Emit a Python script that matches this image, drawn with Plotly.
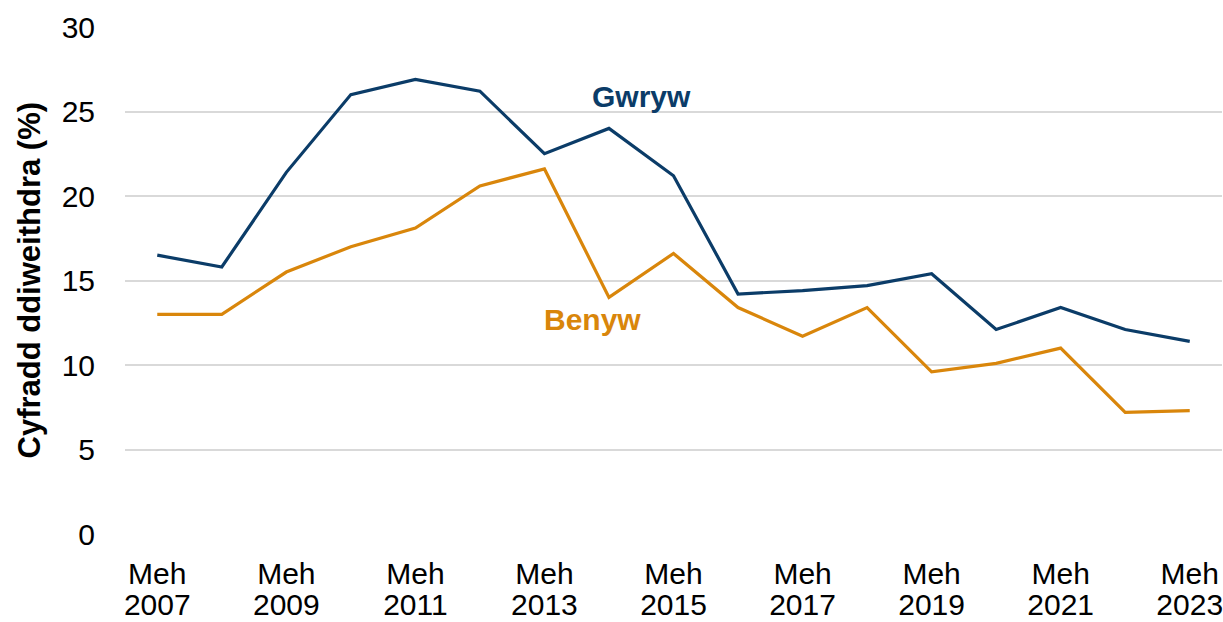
import plotly.graph_objects as go

# Mehefin (June) each year
years = list(range(2007, 2024))
gwryw = [16.5, 15.8, 21.4, 26.0, 26.9, 26.2, 22.5, 24.0, 21.2, 14.2, 14.4, 14.7, 15.4,
         12.1, 13.4, 12.1, 11.4]
benyw = [13.0, 13.0, 15.5, 17.0, 18.1, 20.6, 21.6, 14.0, 16.6, 13.4, 11.7, 13.4, 9.6,
         10.1, 11.0, 7.2, 7.3]
tick_years = years[::2]
month_text = ["Meh"] * len(tick_years)
year_text = [str(y) for y in tick_years]

BLUE = "#0B3C68"
ORANGE = "#D9860B"
FONT = "Liberation Sans, Arial, sans-serif"

fig = go.Figure()
fig.add_trace(go.Scatter(x=years, y=gwryw, mode="lines", name="Gwryw",
                         line=dict(color=BLUE, width=3.2)))
# second x axis carries the year line of the tick labels (tighter line spacing)
fig.add_trace(go.Scatter(x=years, y=benyw, mode="lines", name="Benyw", xaxis="x2",
                         line=dict(color=ORANGE, width=3.2)))

fig.add_annotation(x=2014.5, y=25.9, text="<b>Gwryw</b>", showarrow=False,
                   font=dict(size=30, color=BLUE, family=FONT))
fig.add_annotation(x=2013.75, y=12.7, text="<b>Benyw</b>", showarrow=False,
                   font=dict(size=30, color=ORANGE, family=FONT))

fig.add_annotation(xref="paper", yref="paper", x=-96 / 1097, y=0.5,
                   text="<b>Cyfradd ddiweithdra (%)</b>", textangle=-90,
                   showarrow=False, xanchor="center", yanchor="middle",
                   font=dict(size=31, color="black", family=FONT))

xcommon = dict(range=[2006.5, 2023.5], tickvals=tick_years, showgrid=False,
               zeroline=False, showline=False, ticks="", automargin=False,
               ticklabeloverflow="allow", tickfont=dict(size=30))

fig.update_layout(
    width=1223, height=622,
    margin=dict(l=125, r=1, t=27, b=88, autoexpand=False),
    plot_bgcolor="white", paper_bgcolor="white",
    showlegend=False,
    font=dict(family=FONT, size=30, color="black"),
    xaxis=dict(ticktext=month_text, ticklabelstandoff=19, **xcommon),
    xaxis2=dict(ticktext=year_text, ticklabelstandoff=50, overlaying="x",
                matches="x", side="bottom", anchor="y", **xcommon),
    yaxis=dict(range=[0, 30], dtick=5, showgrid=True, gridcolor="#D9D9D9", gridwidth=2,
               zeroline=False, showline=False, ticks="", automargin=False,
               ticklabelstandoff=29, tickfont=dict(size=30)),
)

fig.write_html("out.html", config={"displayModeBar": False},
               post_script="document.body.style.margin='0';")
